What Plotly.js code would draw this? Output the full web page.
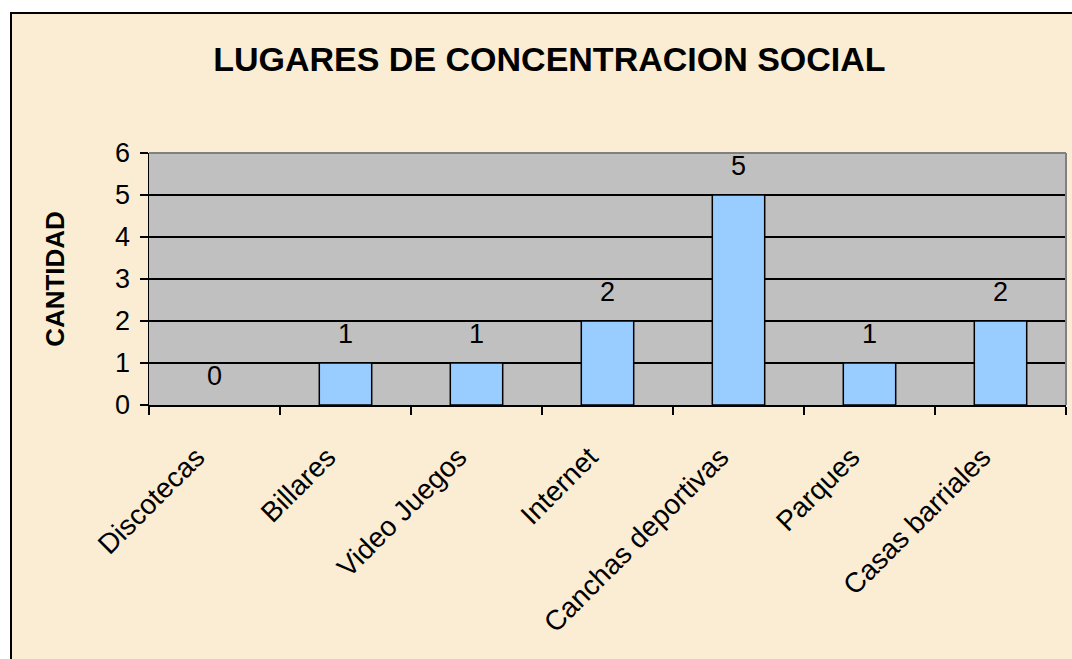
<!DOCTYPE html>
<html>
<head>
<meta charset="utf-8">
<script src="https://cdn.plot.ly/plotly-3.0.1.min.js"></script>
<style>
  html, body { margin: 0; padding: 0; background: #ffffff; width: 1072px; height: 659px; overflow: hidden; }
  #frame { position: absolute; left: 10px; top: 12px; width: 1062px; height: 647px;
           border-top: 2px solid #000; border-left: 2px solid #000; box-sizing: border-box; }
  #chart { width: 1060px; height: 645px; }
</style>
</head>
<body>
<div id="frame"><div id="chart"></div></div>
<script>
const categories = ["Discotecas", "Billares", "Video Juegos", "Internet", "Canchas deportivas", "Parques", "Casas barriales"];
const values = [0, 1, 1, 2, 5, 1, 2];
const yTicks = [0, 1, 2, 3, 4, 5, 6];
const chartTitle = "LUGARES DE CONCENTRACION SOCIAL";
const yTitle = "CANTIDAD";

const font = "Arial, 'Liberation Sans', sans-serif";

const trace = {
  type: "bar",
  x: categories,
  y: values,
  marker: { color: "#99CCFF", line: { color: "#000000", width: values.map(v => v === 0 ? 0 : 1.5) } },
  hoverinfo: "x+y"
};

const labels = categories.map((c, i) => ({
  x: c, y: values[i], xref: "x", yref: "y",
  text: String(values[i]), showarrow: false,
  yanchor: "bottom", yshift: 12,
  font: { family: font, size: 27, color: "#000" }
}));

const layout = {
  width: 1060, height: 645,
  margin: { l: 137, r: 6, t: 139, b: 254 },
  paper_bgcolor: "#FAEDD3",
  plot_bgcolor: "#C0C0C0",
  bargap: 0.6,
  showlegend: false,
  title: {
    text: "<b>" + chartTitle + "</b>",
    font: { family: font, size: 34, color: "#000" },
    xref: "container", x: 0.507, xanchor: "center",
    yref: "container", y: 0.93, yanchor: "middle"
  },
  xaxis: {
    type: "category",
    tickangle: -45,
    tickson: "boundaries",
    ticks: "outside", ticklen: 8, tickwidth: 1.5, tickcolor: "#000",
    showline: true, linecolor: "#000", linewidth: 1.5,
    showgrid: false,
    tickfont: { family: font, size: 28, color: "#000" },
    ticklabelstandoff: 23,
    ticklabelshift: -18,
    automargin: false
  },
  yaxis: {
    range: [0, 6],
    tickvals: yTicks,
    ticktext: yTicks.map(String),
    ticks: "outside", ticklen: 8, tickwidth: 1.5, tickcolor: "#000",
    showline: true, linecolor: "#000", linewidth: 1.5,
    showgrid: true, gridcolor: "#000", gridwidth: 1.5,
    zeroline: false,
    tickfont: { family: font, size: 27, color: "#000" },
    ticklabelstandoff: 4,
    title: { text: "<b>" + yTitle + "</b>", font: { family: font, size: 26, color: "#000" }, standoff: 43 },
    automargin: false
  },
  shapes: [
    { type: "line", xref: "paper", yref: "paper", x0: 0, x1: 1, y0: 1, y1: 1, line: { color: "#808080", width: 2 }, layer: "above" },
    { type: "line", xref: "paper", yref: "paper", x0: 1, x1: 1, y0: 0, y1: 1, line: { color: "#808080", width: 2 }, layer: "above" }
  ],
  annotations: labels
};

Plotly.newPlot("chart", [trace], layout, { displayModeBar: false, staticPlot: true });
</script>
</body>
</html>
